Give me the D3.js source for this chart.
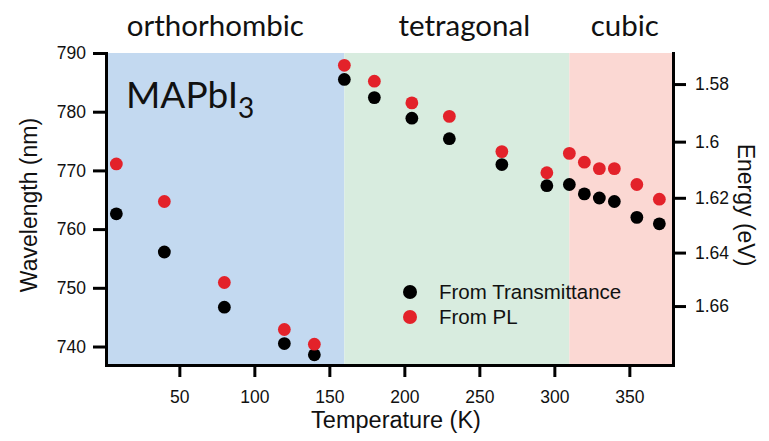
<!DOCTYPE html>
<html>
<head>
<meta charset="utf-8">
<script src="https://cdn.jsdelivr.net/npm/d3@7"></script>
<style>
  body { margin: 0; background: #fff; }
  svg text { fill: #111; }
</style>
</head>
<body>
<svg id="chart" width="769" height="441"></svg>
<script>
// temperatures (K)
const temps = [8, 40, 80, 120, 140, 160, 180, 205, 230, 265, 295, 310, 320, 330, 340, 355, 370];
// wavelength (nm) from transmittance edge
const transmittance = [762.6, 756.1, 746.7, 740.5, 738.6, 785.5, 782.4, 778.9, 775.4, 771.0, 767.4, 767.6, 766.0, 765.3, 764.7, 762.0, 760.9];
// wavelength (nm) from PL peak
const pl = [771.1, 764.7, 750.9, 742.9, 740.4, 787.9, 785.2, 781.5, 779.2, 773.2, 769.6, 772.9, 771.4, 770.3, 770.3, 767.6, 765.1];

const phaseNames = ['orthorhombic', 'tetragonal', 'cubic'];
const phaseEdges = [160, 310];          // phase boundaries (K)
const phaseLabelT = [74, 240, 347];     // where the phase name sits (K)
const phaseColors = ['#c3d9f0', '#d8ecdf', '#fbd8d3'];

const tempTicks = [50, 100, 150, 200, 250, 300, 350];
const wlTicks = [740, 750, 760, 770, 780, 790];
const energyTicks = [1.58, 1.6, 1.62, 1.64, 1.66];
const energyLabels = ['1.58', '1.6', '1.62', '1.64', '1.66'];

const seriesNames = ['From Transmittance', 'From PL'];
const seriesColors = ['#000000', '#e3222a'];

const HC = 1239.84; // eV*nm

const svg = d3.select('#chart');
const m = {left: 106, right: 673, top: 53, bottom: 365};

const x = d3.scaleLinear().domain([1.1, 379.1]).range([m.left, m.right]);
const y = d3.scaleLinear().domain([736.85, 790]).range([m.bottom, m.top]);

// phase background bands
const bounds = [x.domain()[0], ...phaseEdges, x.domain()[1]];
svg.append('g').selectAll('rect')
  .data(phaseNames)
  .join('rect')
  .attr('x', (d, i) => x(bounds[i]))
  .attr('y', m.top)
  .attr('width', (d, i) => x(bounds[i + 1]) - x(bounds[i]))
  .attr('height', m.bottom - m.top)
  .attr('fill', (d, i) => phaseColors[i]);

// phase names
svg.append('g').selectAll('text')
  .data(phaseNames)
  .join('text')
  .attr('x', (d, i) => x(phaseLabelT[i]))
  .attr('y', 36)
  .attr('text-anchor', 'middle')
  .style('font-family', 'Lato, "Open Sans", sans-serif')
  .style('font-size', '29.5px')
  .text(d => d);

// sample label
const sample = svg.append('text')
  .attr('x', 126)
  .attr('y', 108)
  .style('font-family', 'Lato, "Open Sans", sans-serif')
  .style('font-size', '37px');
sample.append('tspan').text('MAPbI');
sample.append('tspan').attr('dy', 10).style('font-size', '28px').text('3');

// data points
const series = [transmittance, pl];
series.forEach((vals, s) => {
  svg.append('g').selectAll('circle')
    .data(vals)
    .join('circle')
    .attr('cx', (d, i) => x(temps[i]))
    .attr('cy', d => y(d))
    .attr('r', 6.4)
    .attr('fill', seriesColors[s]);
});

// axes
const tickFont = 'Arial, "Liberation Sans", sans-serif';

const gx = svg.append('g')
  .attr('transform', `translate(0,${m.bottom})`)
  .call(d3.axisBottom(x).tickValues(tempTicks).tickSize(12).tickPadding(14).tickSizeOuter(0));

const gy = svg.append('g')
  .attr('transform', `translate(${m.left},0)`)
  .call(d3.axisLeft(y).tickValues(wlTicks).tickSize(13).tickPadding(7).tickSizeOuter(0));

// energy axis: ticks placed at the wavelength that matches each energy
const gr = svg.append('g')
  .attr('transform', `translate(${m.right},0)`)
  .call(d3.axisRight(y)
    .tickValues(energyTicks.map(e => HC / e))
    .tickFormat((d, i) => energyLabels[i])
    .tickSize(13).tickPadding(9).tickSizeOuter(0));

[gx, gy, gr].forEach(g => {
  g.attr('font-family', null);
  g.select('.domain').attr('stroke', '#000').attr('stroke-width', 3).attr('stroke-linecap', 'square');
  g.selectAll('.tick line').attr('stroke', '#000').attr('stroke-width', 3);
  g.selectAll('.tick text')
    .style('font-family', tickFont)
    .style('font-size', '17.5px')
    .attr('fill', '#111');
});

// axis titles
svg.append('text')
  .attr('x', 396)
  .attr('y', 428)
  .attr('text-anchor', 'middle')
  .style('font-family', tickFont)
  .style('font-size', '23.5px')
  .text('Temperature (K)');

svg.append('text')
  .attr('transform', 'translate(37,205) rotate(-90)')
  .attr('text-anchor', 'middle')
  .style('font-family', tickFont)
  .style('font-size', '23px')
  .text('Wavelength (nm)');

svg.append('text')
  .attr('transform', 'translate(738,205) rotate(90)')
  .attr('text-anchor', 'middle')
  .style('font-family', tickFont)
  .style('font-size', '23px')
  .text('Energy (eV)');

// legend
const legend = svg.append('g').attr('transform', 'translate(410,292)');
const item = legend.selectAll('g')
  .data(seriesNames)
  .join('g')
  .attr('transform', (d, i) => `translate(0,${i * 25})`);
item.append('circle').attr('r', 7).attr('fill', (d, i) => seriesColors[i]);
item.append('text')
  .attr('x', 29)
  .attr('y', 7)
  .style('font-family', tickFont)
  .style('font-size', '20.5px')
  .text(d => d);
</script>
</body>
</html>
